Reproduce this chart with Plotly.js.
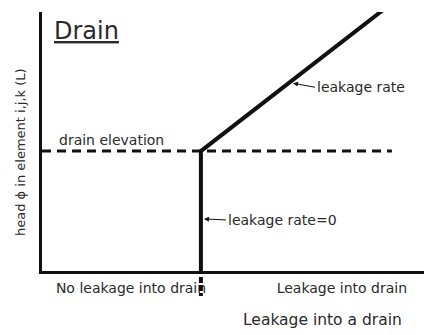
<!DOCTYPE html>
<html>
<head>
<meta charset="utf-8">
<script src="https://cdn.plot.ly/plotly-3.0.1.min.js"></script>
<style>
  html, body { margin: 0; padding: 0; background: #fff; }
  #myDiv { width: 424px; height: 335px; }
</style>
</head>
<body>
<div id="myDiv"></div>
<script>
// axis scale is 0..100 in both directions (schematic, no units)
var curveX = [41.6, 41.6, 89.3];   // leakage rate=0 then rising leakage
var curveY = [0, 46.3, 100.8];
var elevX = [0, 91.6];             // drain elevation line
var elevY = [46.3, 46.3];
var stubX = [41.6, 41.6];          // dashed marker under the axis
var stubY = [-2.3, -9.7];

var tickVals = [23.3, 78.5];
var tickText = ['No leakage into drain', 'Leakage into drain'];

var FONT = 'DejaVu Sans, sans-serif';
var TXT = '#2a2a2a';

function makeTraces() {
  var t1 = { x: curveX, y: curveY, mode: 'lines', type: 'scatter',
    line: {color: '#111', width: 4}, cliponaxis: false, hoverinfo: 'skip' };
  var t2 = { x: elevX, y: elevY, mode: 'lines', type: 'scatter',
    line: {color: '#111', width: 3, dash: '9px,6px'}, hoverinfo: 'skip' };
  // the stub sits below the x axis, so it gets its own small y axis
  var t3 = { x: stubX, y: stubY, mode: 'lines', type: 'scatter', yaxis: 'y2',
    line: {color: '#111', width: 4, dash: '6px,2px'}, hoverinfo: 'skip' };
  return [t2, t1, t3];
}

function getLayout() {
  var split = 29 / 288;  // share of plot height below the x axis
  var p = {
    width: 424, height: 335,
    margin: {l: 42, r: 0, t: 12, b: 35},
    paper_bgcolor: '#fff', plot_bgcolor: 'rgba(0,0,0,0)',
    showlegend: false,
    font: {family: FONT, color: TXT},
    xaxis: {
      range: [0, 100], showline: true, linecolor: '#111', linewidth: 3,
      showgrid: false, zeroline: false, ticks: '', fixedrange: true,
      tickvals: tickVals, ticktext: tickText, ticklabelstandoff: 2,
      tickfont: {family: FONT, size: 14, color: TXT}
    },
    yaxis: {
      domain: [split, 1],
      range: [0, 100], showline: true, linecolor: '#111', linewidth: 3,
      showgrid: false, zeroline: false, showticklabels: false, ticks: '', fixedrange: true
    },
    yaxis2: {
      domain: [0, split], anchor: 'x',
      range: [-11.2, 0], visible: false, fixedrange: true
    },
    annotations: [
      {x: 2.6, y: 92.7, xref: 'x', yref: 'y', xanchor: 'left', showarrow: false,
       text: '<u>Drain</u>', font: {family: FONT, size: 24, color: TXT}},
      {x: 3.9, y: 50.6, xref: 'x', yref: 'y', xanchor: 'left', showarrow: false,
       text: 'drain elevation', font: {family: FONT, size: 14, color: TXT}},
      {x: 65.7, y: 72.5, xref: 'x', yref: 'y', xanchor: 'left', ax: 22, ay: 4,
       showarrow: true, arrowhead: 2, arrowsize: 1, arrowwidth: 1, arrowcolor: '#111',
       text: 'leakage rate', font: {family: FONT, size: 14, color: TXT}},
      {x: 42.4, y: 20.1, xref: 'x', yref: 'y', xanchor: 'left', ax: 22, ay: 1,
       showarrow: true, arrowhead: 2, arrowsize: 1, arrowwidth: 1, arrowcolor: '#111',
       text: 'leakage rate=0', font: {family: FONT, size: 14, color: TXT}},
      {x: -0.058, y: 45.9, xref: 'paper', yref: 'y', xanchor: 'center', yanchor: 'middle',
       showarrow: false, textangle: -90,
       text: 'head \u03d5 in element i,j,k (L)', font: {family: FONT, size: 13, color: TXT}},
      {x: 73.3, y: -0.069, xref: 'x', yref: 'paper', xanchor: 'center', yanchor: 'middle',
       showarrow: false,
       text: 'Leakage into a drain', font: {family: FONT, size: 15.5, color: TXT}}
    ]
  };
  return p;
}

Plotly.newPlot('myDiv', makeTraces(), getLayout(), {displayModeBar: false, staticPlot: true});
</script>
</body>
</html>
